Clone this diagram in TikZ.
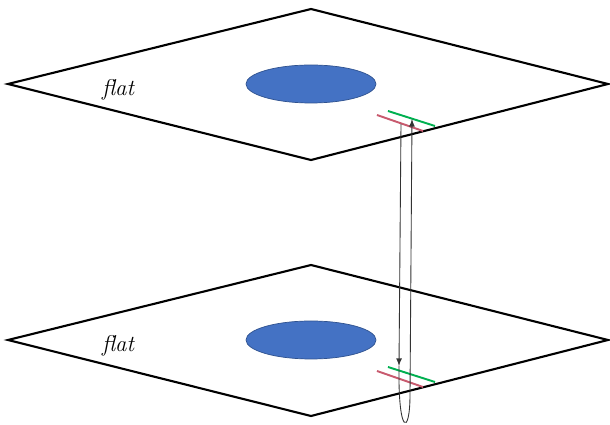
\documentclass[tikz,border=0pt]{standalone}
\usetikzlibrary{shapes.geometric}
\definecolor{spotblue}{RGB}{68,114,196}
\definecolor{spotedge}{RGB}{47,82,143}
\definecolor{edgegreen}{RGB}{0,176,80}
\definecolor{edgered}{RGB}{200,90,110}
\tikzset{
  plane/.style={line width=1.2pt, line join=miter},
  spot/.style={ellipse, fill=spotblue, draw=spotedge, line width=.4pt, minimum width=2.6cm, minimum height=.76cm},
  flatlabel/.style={font=\fontsize{13}{15}\selectfont\itshape},
  gline/.style={edgegreen, line width=1.1pt},
  rline/.style={edgered, line width=1.1pt},
  transport/.style={->, line width=.5pt, black!80}
}
\begin{document}
\begin{tikzpicture}[x=0.02cm, y=-0.02cm, >=latex]
\useasboundingbox (0,0) rectangle (610,425);

\foreach \d/\n in {0/top,256/bot}
{
    \draw[plane] (8,84+\d)--(311,9+\d)--(608,84+\d)--(311,160+\d)--cycle;
    \node[spot] (\n spot) at (311,84+\d) {};
    \node[flatlabel] (\n flat) at (118,90+\d) {flat};
    \draw[gline] (388,111+\d)--(435,126+\d);
    \draw[rline] (377,115+\d)--(423,131+\d);
}

\coordinate (tr) at (401,124);
\coordinate (tg) at (412,119);
\coordinate (bg) at (399,366);

\draw[transport] (tr)--(bg);
\draw[transport] (bg) .. controls (398,436) and (410,436) .. (410,395) -- (tg);

\end{tikzpicture}
\end{document}
